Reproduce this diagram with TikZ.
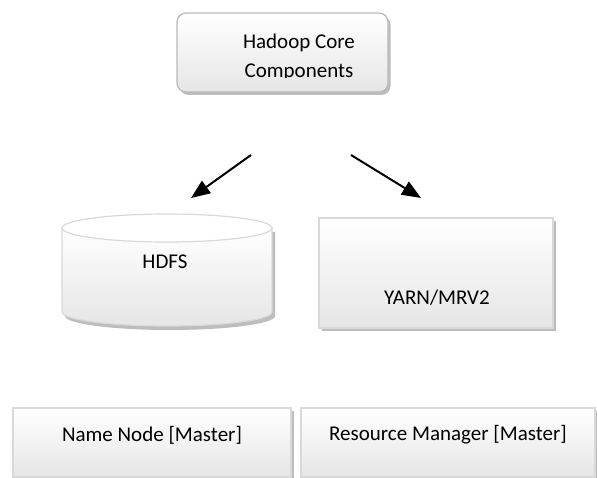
\documentclass[tikz,border=0pt]{standalone}
\usepackage{fontspec}
\setmainfont{Carlito}
\usetikzlibrary{shadows,arrows.meta}
\tikzset{
  panel/.style={draw=gray!30, line width=1.2pt, top color=white, bottom color=gray!20,
    drop shadow={shadow xshift=2.5pt, shadow yshift=-3pt, fill=gray!65, opacity=0.8}},
  label/.style={font=\fontsize{21}{29}\selectfont, text=black, inner sep=0pt, align=center},
  flow/.style={line width=2pt, -{Triangle[length=19pt,width=15pt]}}
}
\begin{document}
\begin{tikzpicture}[x=1pt,y=-1pt]
\useasboundingbox (0,0) rectangle (597,478);

% top component box
\node[panel, draw=gray!55, rounded corners=9pt, minimum width=211pt, minimum height=79pt] (core) at (282.5,52.5) {};
\begin{scope}
  \clip (177,13) rectangle (388,78);
  \node[label] (coretext) at (299,57) {Hadoop Core\\Components};
\end{scope}

% HDFS cylinder
\fill[gray!65, opacity=0.8] (65,232) -- (65,316) arc[start angle=180, end angle=360, x radius=105pt, y radius=14pt] -- (275,232) -- cycle;
\path[draw=gray!30, line width=1.2pt, top color=white, bottom color=gray!20]
  (62,228) -- (62,312) arc[start angle=180, end angle=360, x radius=105pt, y radius=14pt] -- (272,228) -- cycle;
\draw[gray!30, line width=1.2pt, fill=white] (167,228) ellipse[x radius=105pt, y radius=14pt];
\node[label] (hdfs) at (165,262) {HDFS};

% YARN box
\node[panel, minimum width=234pt, minimum height=110pt] (yarn) at (436,273) {};
\node[label] (yarntext) at (437,298) {YARN/MRV2};

% bottom boxes
\node[panel, minimum width=278pt, minimum height=69pt] (nn) at (152,442.5) {};
\node[label] (nntext) at (152,435) {Name Node [Master]};
\node[panel, minimum width=294pt, minimum height=69pt] (rm) at (448,442.5) {};
\node[label] (rmtext) at (448,435) {Resource Manager [Master]};

% arrows
\coordinate (l0) at (251,155);
\coordinate (l1) at (191,198);
\coordinate (r0) at (351,155);
\coordinate (r1) at (421,198);
\draw[flow] (l0) -- (l1);
\draw[flow] (r0) -- (r1);
\end{tikzpicture}
\end{document}
